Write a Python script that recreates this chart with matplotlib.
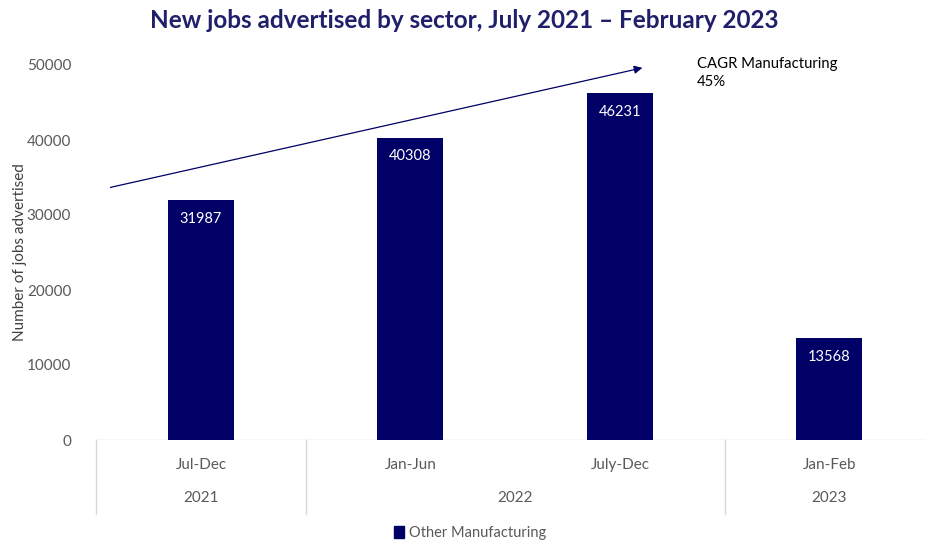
import matplotlib.pyplot as plt
from matplotlib.lines import Line2D
from matplotlib.patches import Patch

periods = ["Jul-Dec", "Jan-Jun", "July-Dec", "Jan-Feb"]
years = ["2021", "2022", "2023"]
year_spans = [(0, 1), (1, 3), (3, 4)]
jobs = [31987, 40308, 46231, 13568]
series_name = "Other Manufacturing"
cagr_text = "CAGR Manufacturing\n45%"

W, H = 925, 542
navy = "#000066"
grey = "#595959"
grid_c = "#d9d9d9"
plt.rcParams['font.family'] = ['Lato', 'DejaVu Sans']

fig = plt.figure(figsize=(W / 100, H / 100), dpi=100)
ax_left, ax_right = 96.2, 934.2
ax_bot, ax_top = 440, 65
ax = fig.add_axes([ax_left / W, 1 - ax_bot / H, (ax_right - ax_left) / W, (ax_bot - ax_top) / H])

x = range(len(jobs))
bars = ax.bar(x, jobs, width=0.315, color=navy, zorder=3)
for b, v in zip(bars, jobs):
    ax.text(b.get_x() + b.get_width() / 2, v - 2500, str(v), ha='center', va='center',
            color='white', fontsize=10.5)

ax.set_xlim(-0.5, len(jobs) - 0.5)
ax.set_ylim(0, 50000)
ax.set_yticks(range(0, 50001, 10000))
ax.tick_params(axis='y', length=0, labelsize=11, colors=grey, pad=18)
ax.set_xticks([])
for s in ax.spines.values():
    s.set_visible(False)
ax.axhline(0, color=grid_c, lw=1, zorder=2)
ax.set_ylabel("Number of jobs advertised", fontsize=11, color='#404040', labelpad=0)

# two-level category axis
def yfrac(py):
    return (ax_bot - py) / (ax_bot - ax_top)

for i, p in enumerate(periods):
    ax.text(i, yfrac(465), p, ha='center', va='center', fontsize=11, color=grey,
            transform=ax.get_xaxis_transform(), clip_on=False)
for yr, (a, b) in zip(years, year_spans):
    ax.text((a + b) / 2 - 0.5, yfrac(498), yr, ha='center', va='center', fontsize=11,
            color=grey, transform=ax.get_xaxis_transform(), clip_on=False)
for bnd in [0, 1, 3, 4]:
    ax.add_line(Line2D([bnd - 0.5, bnd - 0.5], [0, yfrac(514)], color=grid_c, lw=1,
                       transform=ax.get_xaxis_transform(), clip_on=False))

# CAGR arrow and note
ax.annotate("", xy=(2.12, 49700), xytext=(-0.445, 33600),
            arrowprops=dict(arrowstyle='-|>', color=navy, lw=0.9, mutation_scale=12))
fig.text(697 / W, 1 - 73 / H, cagr_text, ha='left', va='center', fontsize=10.7,
         color='black', linespacing=1.45)

fig.text(464 / W, 1 - 20 / H, "New jobs advertised by sector, July 2021 \u2013 February 2023",
         ha='center', va='center', fontsize=17.5, fontweight='bold', color='#1f1f6b')

fig.legend(handles=[Patch(color=navy, label=series_name)], loc='center',
           bbox_to_anchor=(470 / W, 1 - 533 / H), frameon=False, fontsize=10.5,
           handlelength=0.7, handleheight=0.9, handletextpad=0.3, labelcolor=grey)

fig.savefig("out.png", dpi=100)
